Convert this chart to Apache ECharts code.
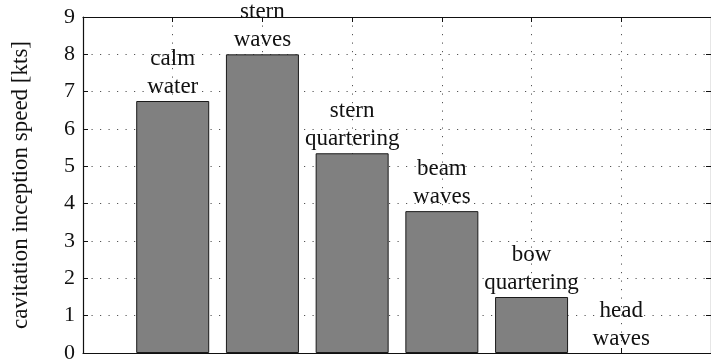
<!DOCTYPE html>
<html>
<head>
<meta charset="utf-8">
<script src="https://cdn.jsdelivr.net/npm/echarts@6/dist/echarts.min.js"></script>
<style>
  html, body { margin: 0; padding: 0; background: #fff; }
  #chart { width: 711px; height: 364px; }
</style>
</head>
<body>
<div id="chart"></div>
<script>
// Sea conditions (two-line labels drawn over each bar)
const conditions = ['calm\nwater', 'stern\nwaves', 'stern\nquartering', 'beam\nwaves', 'bow\nquartering', 'head\nwaves'];
// Bar positions along the x axis
const positions = [1, 2, 3, 4, 5, 6];
// Cavitation inception speed per condition [kts]
const inceptionSpeed = [6.75, 8.0, 5.35, 3.8, 1.5, 0];
// Axis ranges
const xRange = [0, 7];
const yRange = [0, 9];

const serif = '"Liberation Serif", "DejaVu Serif", serif';
const ink = '#111';
const dotted = { color: '#555', width: 1, type: [1.2, 7.3] };

const chart = echarts.init(document.getElementById('chart'), null, { renderer: 'canvas' });

const frameX = (pos, withGrid) => ({
  type: 'value',
  position: pos,
  min: xRange[0], max: xRange[1], interval: 1,
  axisLine: { show: true, onZero: false, lineStyle: { color: ink, width: 1.2 } },
  axisTick: { show: true, inside: true, length: 5, lineStyle: { color: ink, width: 1 } },
  axisLabel: { show: false },
  splitLine: { show: withGrid, lineStyle: dotted }
});

const frameY = (pos, withGrid) => ({
  type: 'value',
  position: pos,
  min: yRange[0], max: yRange[1], interval: 1,
  axisLine: { show: true, onZero: false, lineStyle: { color: ink, width: 1.2 } },
  axisTick: { show: true, inside: true, length: 5, lineStyle: { color: ink, width: 1 } },
  axisLabel: { show: withGrid, fontFamily: serif, fontSize: 22, color: ink, margin: 8 },
  splitLine: { show: withGrid, lineStyle: dotted },
  name: withGrid ? 'cavitation inception speed [kts]' : '',
  nameLocation: 'middle',
  nameGap: 51,
  nameTextStyle: { fontFamily: serif, fontSize: 23, color: ink }
});

chart.setOption({
  animation: false,
  grid: { left: 83, top: 17, width: 637, height: 337, containLabel: false },
  xAxis: [frameX('bottom', true), frameX('top', false)],
  yAxis: [frameY('left', true), frameY('right', false)],
  series: [{
    type: 'bar',
    xAxisIndex: 0,
    yAxisIndex: 0,
    barWidth: 73,
    // an empty bar gets no outline
    data: positions.map((p, i) => ({
      value: [p, inceptionSpeed[i]],
      itemStyle: inceptionSpeed[i] === 0 ? { borderWidth: 0 } : undefined
    })),
    itemStyle: { color: '#808080', borderColor: '#1a1a1a', borderWidth: 1 },
    label: {
      show: true,
      position: 'top',
      distance: 0,
      formatter: (p) => conditions[p.dataIndex],
      fontFamily: serif,
      fontSize: 23,
      lineHeight: 28,
      color: ink,
      align: 'center'
    }
  }]
});
</script>
</body>
</html>
